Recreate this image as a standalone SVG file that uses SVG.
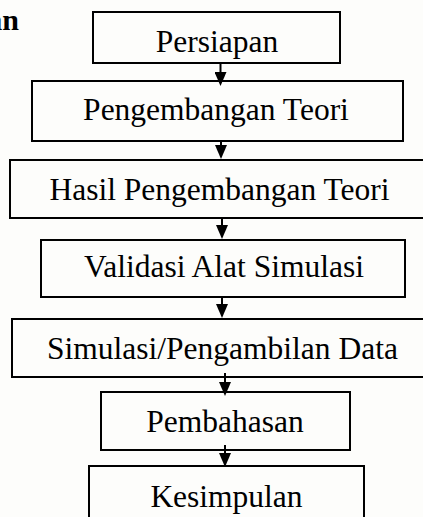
<svg xmlns="http://www.w3.org/2000/svg" width="423" height="517" viewBox="0 0 423 517">
<style>
.box{fill:none;stroke:#000;stroke-width:2}
.lbl{font-family:"Liberation Serif","Times New Roman",serif;font-size:31.5px;fill:#000;text-anchor:middle}
.hd{font-family:"Liberation Serif","Times New Roman",serif;font-size:30px;font-weight:bold;fill:#000;text-anchor:end}
.con{stroke:#000;stroke-width:2;fill:none}
</style>
<defs>
<marker id="ah" viewBox="0 0 14 12" refX="0" refY="6" markerWidth="14" markerHeight="12" markerUnits="userSpaceOnUse" orient="auto">
<path d="M0,0 L14,6 L0,12 z" fill="#000"/>
</marker>
</defs>
<rect width="423" height="517" fill="#fdfdfb"/>
<text class="hd" x="19" y="30">an</text>
<g id="n1"><rect class="box" x="93" y="12" width="247" height="51"/><text class="lbl" x="217" y="52">Persiapan</text></g>
<g id="n2"><rect class="box" x="32" y="81" width="371" height="60"/><text class="lbl" x="216" y="120">Pengembangan Teori</text></g>
<g id="n3"><rect class="box" x="10" y="160" width="420" height="58"/><text class="lbl" x="219.5" y="200">Hasil Pengembangan Teori</text></g>
<g id="n4"><rect class="box" x="41" y="240" width="364" height="57"/><text class="lbl" x="224" y="277">Validasi Alat Simulasi</text></g>
<g id="n5"><rect class="box" x="12" y="319" width="420" height="58"/><text class="lbl" x="222.5" y="359">Simulasi/Pengambilan Data</text></g>
<g id="n6"><rect class="box" x="101" y="392" width="249" height="58"/><text class="lbl" x="225" y="432">Pembahasan</text></g>
<g id="n7"><rect class="box" x="89" y="466" width="275" height="60"/><text class="lbl" x="226.5" y="507">Kesimpulan</text></g>
<g id="connectors">
<line class="con" x1="220.5" y1="63" x2="220.5" y2="72" marker-end="url(#ah)"/>
<line class="con" x1="221" y1="141" x2="221" y2="145" marker-end="url(#ah)"/>
<line class="con" x1="222" y1="218" x2="222" y2="225" marker-end="url(#ah)"/>
<line class="con" x1="222" y1="297" x2="222" y2="304" marker-end="url(#ah)"/>
<line class="con" x1="225" y1="373" x2="225" y2="382" marker-end="url(#ah)"/>
<line class="con" x1="225" y1="445" x2="225" y2="453" marker-end="url(#ah)"/>
</g>
</svg>
